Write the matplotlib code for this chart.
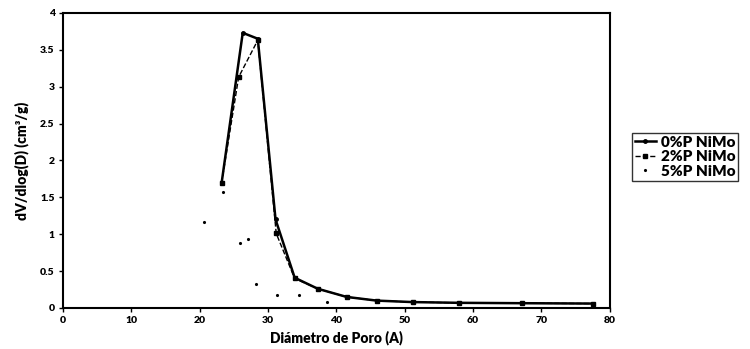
import matplotlib
matplotlib.use("Agg")
from matplotlib import pyplot as plt

# pore diameter (A) and dV/dlog(D) (cm3/g)
d_0p = [23.2, 26.3, 28.5, 31.1, 33.9, 37.3, 41.5, 45.9, 51.2, 58.0, 67.1, 77.5]
v_0p = [1.69, 3.73, 3.65, 1.20, 0.41, 0.26, 0.15, 0.10, 0.08, 0.07, 0.065, 0.06]

d_2p = [23.2, 25.7, 28.5, 31.2, 33.9, 37.3, 41.5, 45.9, 51.2, 58.0, 67.1, 77.5]
v_2p = [1.69, 3.13, 3.63, 1.01, 0.40, 0.26, 0.15, 0.10, 0.08, 0.07, 0.065, 0.06]

d_5p = [20.6, 23.4, 25.9, 27.1, 28.3, 31.3, 34.6, 38.7]
v_5p = [1.17, 1.57, 0.88, 0.94, 0.33, 0.18, 0.18, 0.08]

x_ticks = [0, 10, 20, 30, 40, 50, 60, 70, 80]
y_ticks = [0, 0.5, 1, 1.5, 2, 2.5, 3, 3.5, 4]
y_labels = ["0", "0.5", "1", "1.5", "2", "2.5", "3", "3.5", "4"]

plt.rcParams['font.family'] = ['Lato', 'DejaVu Sans']
plt.rcParams['font.weight'] = 'heavy'

fig = plt.figure(figsize=(7.5, 3.49), dpi=100)
ax = fig.add_axes([0.084, 0.1175, 0.729, 0.8455])

ax.plot(d_0p, v_0p, '-', color='black', lw=1.8, marker='o', ms=2.5, label='0%P NiMo')
ax.plot(d_2p, v_2p, '--', color='black', lw=1.0, marker='s', ms=3, label='2%P NiMo')
ax.plot(d_5p, v_5p, ' ', color='black', marker='.', ms=2.5, label='5%P NiMo')

ax.set_xlim(0, 80)
ax.set_ylim(0, 4)
ax.set_xticks(x_ticks)
ax.set_yticks(y_ticks)
ax.set_yticklabels(y_labels)
ax.tick_params(direction='out', length=3, width=1, labelsize=7.5, pad=3)
for s in ax.spines.values():
    s.set_linewidth(1.5)

ax.set_xlabel("Diámetro de Poro (A)", fontsize=10, fontweight='heavy', labelpad=4)
ax.set_ylabel("dV/dlog(D) (cm³/g)", fontsize=10, fontweight='heavy', labelpad=8)

leg = fig.legend(loc='upper left', bbox_to_anchor=(0.842, 0.62), frameon=True,
                 fancybox=False, edgecolor='black', fontsize=11, handlelength=1.4,
                 handletextpad=0.3, borderpad=0.2, labelspacing=0.1, borderaxespad=0)
leg.get_frame().set_linewidth(1.0)

fig.savefig("out.png", dpi=100)
